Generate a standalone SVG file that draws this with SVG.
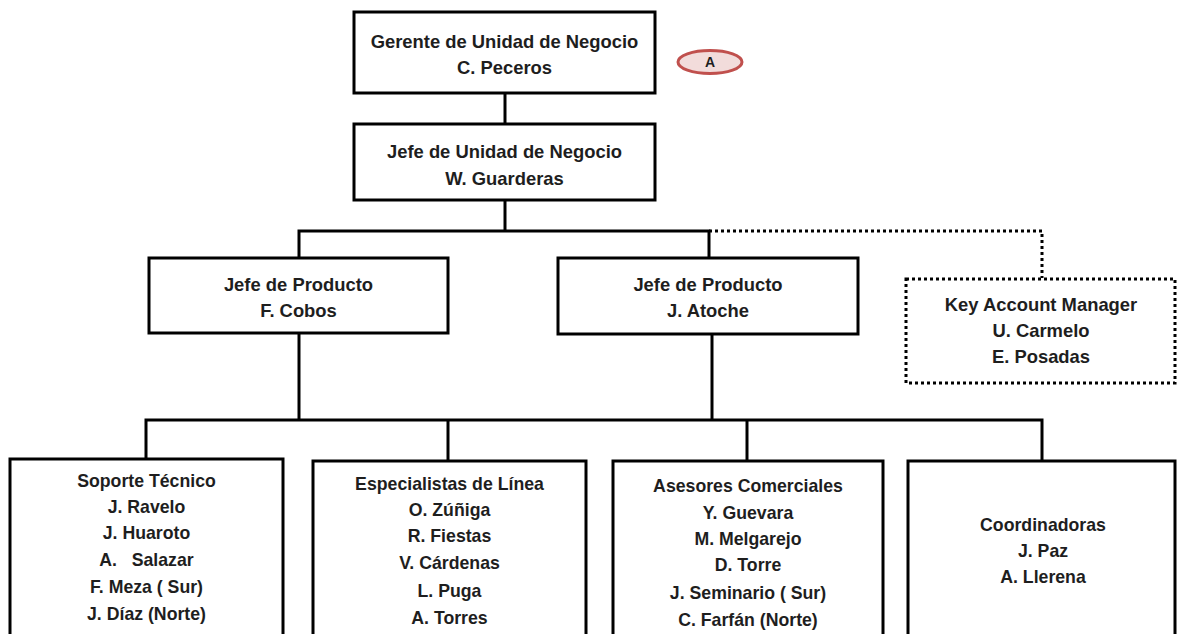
<svg xmlns="http://www.w3.org/2000/svg" width="1177" height="634" viewBox="0 0 1177 634">
<style>
  .box { fill: #ffffff; stroke: #000000; stroke-width: 3; }
  .dbox { fill: #ffffff; stroke: #000000; stroke-width: 3; stroke-dasharray: 3 3; }
  .t { font-family: "Liberation Sans", Arial, sans-serif; font-size: 17.7px; font-weight: bold; fill: #1e1e1e; text-anchor: middle; }
  .tu { font-size: 18.4px; }
  .conn { fill: none; stroke: #000000; stroke-width: 3; }
  .dconn { fill: none; stroke: #000000; stroke-width: 3; stroke-dasharray: 3 3; }
</style>
<rect width="1177" height="634" fill="#ffffff"/>
<g id="connectors">
  <path class="conn" d="M505 93 V124"/>
  <path class="conn" d="M505 200 V231"/>
  <path class="conn" d="M299 258 V231 H709 V258"/>
  <path class="dconn" d="M709 231 H1042 V278"/>
  <path class="conn" d="M299 333 V420"/>
  <path class="conn" d="M712 334 V420"/>
  <path class="conn" d="M146 459 V420 H1042 V461"/>
  <path class="conn" d="M448 420 V461"/>
  <path class="conn" d="M747 420 V461"/>
</g>
<g id="gerente">
  <rect class="box" x="354" y="12" width="301" height="81"/>
  <text class="t tu" x="504.5" y="48">Gerente de Unidad de Negocio</text>
  <text class="t tu" x="504.5" y="74">C. Peceros</text>
</g>
<g id="marker-a">
  <ellipse cx="710" cy="62" rx="32" ry="11.5" fill="#f2dcdb" stroke="#c0504d" stroke-width="3"/>
  <text class="t" x="710" y="67" style="font-size:14px">A</text>
</g>
<g id="jefe-unidad">
  <rect class="box" x="354" y="124" width="301" height="76"/>
  <text class="t tu" x="504.5" y="158">Jefe de Unidad de Negocio</text>
  <text class="t tu" x="504.5" y="185">W. Guarderas</text>
</g>
<g id="jefe-producto-cobos">
  <rect class="box" x="149" y="258" width="299" height="75"/>
  <text class="t tu" x="298.5" y="291">Jefe de Producto</text>
  <text class="t tu" x="298.5" y="317">F. Cobos</text>
</g>
<g id="jefe-producto-atoche">
  <rect class="box" x="558" y="258" width="300" height="76"/>
  <text class="t tu" x="708" y="291">Jefe de Producto</text>
  <text class="t tu" x="708" y="317">J. Atoche</text>
</g>
<g id="key-account">
  <rect class="dbox" x="906" y="279" width="269" height="104"/>
  <text class="t tu" x="1041" y="311">Key Account Manager</text>
  <text class="t tu" x="1041" y="337">U. Carmelo</text>
  <text class="t tu" x="1041" y="363">E. Posadas</text>
</g>
<g id="soporte">
  <rect class="box" x="10" y="459" width="273" height="190"/>
  <text class="t" x="146.5" y="487">Soporte Técnico</text>
  <text class="t" x="146.5" y="513">J. Ravelo</text>
  <text class="t" x="146.5" y="539">J. Huaroto</text>
  <text class="t" x="146.5" y="566" xml:space="preserve">A.   Salazar</text>
  <text class="t" x="146.5" y="593">F. Meza ( Sur)</text>
  <text class="t" x="146.5" y="620">J. Díaz (Norte)</text>
</g>
<g id="especialistas">
  <rect class="box" x="313" y="461" width="273" height="190"/>
  <text class="t" x="449.5" y="490">Especialistas de Línea</text>
  <text class="t" x="449.5" y="516">O. Zúñiga</text>
  <text class="t" x="449.5" y="542">R. Fiestas</text>
  <text class="t" x="449.5" y="569">V. Cárdenas</text>
  <text class="t" x="449.5" y="597">L. Puga</text>
  <text class="t" x="449.5" y="624">A. Torres</text>
</g>
<g id="asesores">
  <rect class="box" x="613" y="461" width="270" height="190"/>
  <text class="t" x="748" y="492">Asesores Comerciales</text>
  <text class="t" x="748" y="519">Y. Guevara</text>
  <text class="t" x="748" y="545">M. Melgarejo</text>
  <text class="t" x="748" y="571">D. Torre</text>
  <text class="t" x="748" y="599">J. Seminario ( Sur)</text>
  <text class="t" x="748" y="626">C. Farfán (Norte)</text>
</g>
<g id="coordinadoras">
  <rect class="box" x="908" y="461" width="267" height="190"/>
  <text class="t" x="1043" y="531">Coordinadoras</text>
  <text class="t" x="1043" y="557">J. Paz</text>
  <text class="t" x="1043" y="583">A. Llerena</text>
</g>
</svg>
